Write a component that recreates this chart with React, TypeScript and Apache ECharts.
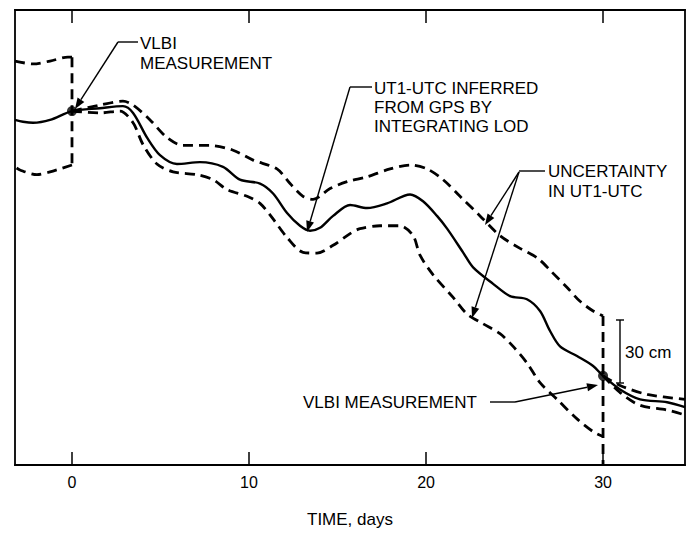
import React, { useEffect, useRef } from "react";
import * as echarts from "echarts";

// Axis ranges (days, cm)
const X_MIN = -3.22;
const X_MAX = 34.63;
const Y_MIN = 0;
const Y_MAX = 221;
const TICK_DAYS = [0, 10, 20, 30];

// UT1-UTC inferred from GPS (solid)
const gpsSolid: [number, number][] = [
  [-3.22, 167.6], [-2.77, 166.7], [-2.2, 166.2], [-1.24, 167.6], [0, 171.9],
  [1.58, 173.3], [2.88, 174.3], [3.45, 171], [4.24, 159], [4.97, 150.5],
  [5.93, 146.2], [7.23, 147.1], [8.53, 144.8], [9.49, 138.6], [10.62, 136.7],
  [11.36, 131.9], [12.15, 122.4], [12.88, 116.2], [13.45, 113.8], [14.01, 115.2],
  [14.75, 121], [15.71, 126.3], [16.67, 124.8], [17.8, 127.1], [19.1, 131.4],
  [19.83, 128.1], [20.62, 121], [21.19, 114.8], [22.09, 103.3], [22.66, 96],
  [23.79, 88], [24.75, 82], [25.7, 80.5], [26.44, 74.8], [27.0, 65.2],
  [27.57, 57.6], [28.53, 52.9], [29.44, 48.1], [30, 43.3], [30.96, 36.7],
  [32.09, 31.9], [33.62, 30.5], [34.63, 28.1],
];

// Upper uncertainty bound after first VLBI measurement (dashed)
const upperBound: [number, number][] = [
  [0, 171.9], [1.58, 174.8], [2.88, 176.7], [3.45, 174.8], [4.41, 167.6],
  [5.37, 159], [6.27, 155.2], [7.8, 155.2], [9.1, 152.9], [10.23, 148.1],
  [11.58, 143.8], [12.32, 136.7], [13.05, 130.5], [13.62, 129], [14.58, 134.3],
  [15.54, 137.6], [16.67, 140], [17.97, 143.8], [19.1, 145.7], [20.06, 143.8],
  [20.96, 138.6], [21.92, 130.5], [23.05, 121], [24.18, 111.4], [25.31, 105.2],
  [26.3, 100.5], [27.1, 93.8], [27.97, 86.2], [28.7, 79.5], [29.44, 74.8],
  [30, 72.4],
];

// Lower uncertainty bound after first VLBI measurement (dashed)
const lowerBound: [number, number][] = [
  [0, 171.9], [1.58, 171], [2.71, 171.9], [3.45, 166.2], [4.01, 155.7],
  [4.8, 146.2], [5.71, 142.4], [7.06, 141], [7.97, 138.6], [8.76, 133.8],
  [9.89, 130.5], [10.62, 127.1], [11.36, 119.5], [12.15, 110.5], [13.05, 103.3],
  [13.84, 102.9], [14.75, 106.7], [15.71, 112.4], [16.27, 114.8], [17.4, 116.2],
  [18.53, 116.2], [19.27, 111.4], [19.66, 101.9], [20.4, 92.4], [21.53, 81.4],
  [22.32, 73.3], [23.22, 68.6], [24.18, 63.8], [24.92, 57.6], [25.71, 49.5],
  [26.44, 40], [27.4, 31.9], [28.53, 22.4], [29.44, 16.2], [30, 13.8],
];

// Uncertainty before day 0 (dashed box)
const leftUpper: [number, number][] = [
  [-3.22, 196.2], [-2.2, 194.8], [-1.24, 196.2], [-0.23, 198.1], [0, 198.1],
];
const leftLower: [number, number][] = [
  [0, 145.7], [-1.24, 142.4], [-1.98, 141], [-2.94, 143.3], [-3.22, 144.8],
];
const leftEdge: [number, number][] = [[0, 198.1], [0, 145.7]];
const rightEdge: [number, number][] = [[30, 72.4], [30, 0]];

// Uncertainty after second VLBI measurement (dashed)
const rightUpper: [number, number][] = [
  [30, 43.3], [30.96, 38.6], [32.49, 34.3], [34.63, 31.9],
];
const rightLower: [number, number][] = [
  [30, 43.3], [30.96, 35.2], [32.09, 29], [33.62, 26.7], [34.63, 24.3],
];

// VLBI measurements
const vlbiPoints: [number, number][] = [[0, 171.9], [30, 43.3]];

const FONT = "Liberation Sans, Arial, sans-serif";
const FS = 17;

function arrow(x1: number, y1: number, x2: number, y2: number, len = 11, half = 4) {
  const dx = x2 - x1;
  const dy = y2 - y1;
  const d = Math.sqrt(dx * dx + dy * dy);
  const ux = dx / d;
  const uy = dy / d;
  const bx = x2 - ux * len;
  const by = y2 - uy * len;
  return [
    {
      type: "line",
      shape: { x1, y1, x2: bx, y2: by },
      style: { stroke: "#000", lineWidth: 1.4 },
    },
    {
      type: "polygon",
      shape: {
        points: [
          [x2, y2],
          [bx - uy * half, by + ux * half],
          [bx + uy * half, by - ux * half],
        ],
      },
      style: { fill: "#000" },
    },
  ];
}

function text(x: number, y: number, t: string) {
  return {
    type: "text",
    x,
    y,
    style: {
      text: t,
      font: `${FS}px ${FONT}`,
      fill: "#000",
      verticalAlign: "middle",
      align: "left",
    },
  };
}

function plainLine(x1: number, y1: number, x2: number, y2: number) {
  return {
    type: "line",
    shape: { x1, y1, x2, y2 },
    style: { stroke: "#000", lineWidth: 1.4 },
  };
}

export default function App() {
  const ref = useRef<HTMLDivElement>(null);
  useEffect(() => {
    document.body.style.margin = "0";
    if (!ref.current) return;
    const chart = echarts.init(ref.current, undefined, { renderer: "svg" });
    const dashed = { type: [10, 6] as number[], width: 2.8, color: "#000" };
    const dashSeries = (data: [number, number][], smooth: number | boolean = 0.3) => ({
      type: "line",
      data,
      smooth,
      showSymbol: false,
      lineStyle: dashed,
      silent: true,
    });
    chart.setOption({
      animation: false,
      backgroundColor: "#fff",
      grid: {
        left: 15,
        right: 8,
        top: 10,
        bottom: 59,
        show: true,
        borderColor: "#000",
        borderWidth: 1.8,
      },
      xAxis: [
        {
          type: "value",
          min: X_MIN,
          max: X_MAX,
          position: "bottom",
          axisLine: { show: true, lineStyle: { color: "#000", width: 1.8 } },
          axisTick: {
            show: true,
            inside: true,
            length: 13,
            customValues: TICK_DAYS,
            lineStyle: { color: "#000", width: 1.5 },
          },
          axisLabel: {
            customValues: TICK_DAYS,
            color: "#000",
            fontSize: 16,
            fontFamily: FONT,
            margin: 9,
          },
          splitLine: { show: false },
          name: "TIME, days",
          nameLocation: "middle",
          nameGap: 46,
          nameTextStyle: { color: "#000", fontSize: FS, fontFamily: FONT },
        },
        {
          type: "value",
          min: X_MIN,
          max: X_MAX,
          position: "top",
          axisLine: { show: true, lineStyle: { color: "#000", width: 1.8 } },
          axisTick: {
            show: true,
            inside: true,
            length: 13,
            customValues: TICK_DAYS,
            lineStyle: { color: "#000", width: 1.5 },
          },
          axisLabel: { show: false },
          splitLine: { show: false },
        },
      ],
      yAxis: {
        type: "value",
        min: Y_MIN,
        max: Y_MAX,
        axisLine: { show: false },
        axisTick: { show: false },
        axisLabel: { show: false },
        splitLine: { show: false },
      },
      series: [
        {
          type: "line",
          data: gpsSolid,
          smooth: 0.3,
          showSymbol: false,
          lineStyle: { color: "#000", width: 2.4 },
          silent: true,
        },
        dashSeries(upperBound),
        dashSeries(lowerBound),
        dashSeries(leftUpper),
        dashSeries(leftLower),
        dashSeries(leftEdge, false),
        dashSeries(rightEdge, false),
        dashSeries(rightUpper),
        dashSeries(rightLower),
        {
          type: "scatter",
          data: vlbiPoints,
          symbolSize: 10,
          itemStyle: { color: "#000" },
          silent: true,
        },
      ],
      graphic: [
        // VLBI measurement (top-left)
        text(140, 43, "VLBI"),
        text(140, 63, "MEASUREMENT"),
        plainLine(118, 42, 138, 42),
        ...arrow(118, 42, 75, 109),
        // UT1-UTC label
        text(374, 88, "UT1-UTC INFERRED"),
        text(374, 107, "FROM GPS BY"),
        text(374, 126, "INTEGRATING LOD"),
        plainLine(350, 87, 372, 87),
        ...arrow(350, 87, 307, 232),
        // Uncertainty label
        text(548, 171, "UNCERTAINTY"),
        text(548, 191, "IN UT1-UTC"),
        plainLine(519, 171, 545, 171),
        ...arrow(519, 172, 485, 225),
        ...arrow(519, 172, 472, 318),
        // VLBI measurement (bottom)
        text(303, 402, "VLBI MEASUREMENT"),
        plainLine(490, 402, 515, 402),
        ...arrow(515, 402, 598, 385),
        // 30 cm scale bar
        plainLine(620, 320, 620, 383),
        plainLine(616, 320, 624, 320),
        plainLine(616, 383, 624, 383),
        text(625, 352, "30 cm"),
      ],
    });
    return () => chart.dispose();
  }, []);
  return <div ref={ref} style={{ width: 693, height: 533 }} />;
}
